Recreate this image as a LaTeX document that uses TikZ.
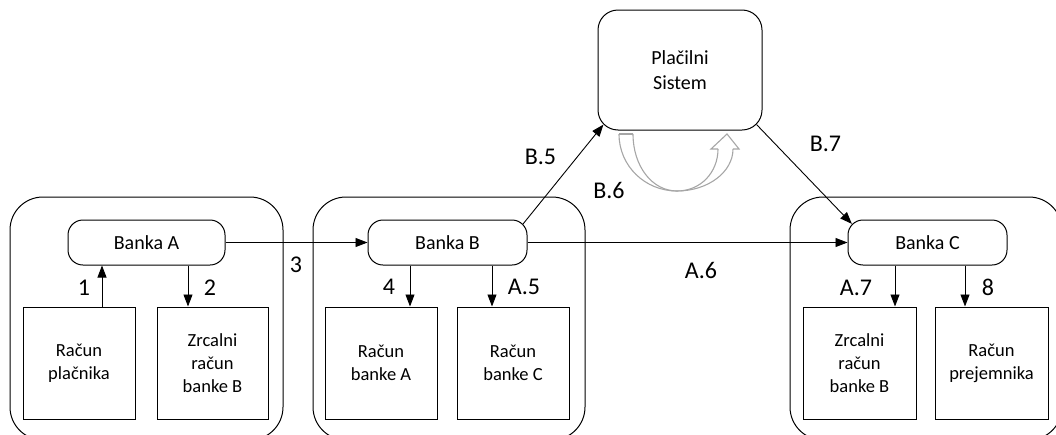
\documentclass[tikz,border=0pt]{standalone}
\usepackage{fontspec}
\setmainfont{Carlito}
\usetikzlibrary{arrows.meta}
\begin{document}
\begin{tikzpicture}[x=1pt,y=-1pt,
  group/.style={draw,line width=1pt,rounded corners=33pt,inner sep=0pt},
  bank/.style={draw,line width=1pt,rounded corners=15pt,inner sep=0pt,
    minimum height=45pt,font=\fontsize{20}{24}\selectfont},
  acct/.style={draw,line width=1pt,inner sep=0pt,minimum width=112pt,
    minimum height=112pt,align=center,font=\fontsize{18.5}{23}\selectfont},
  sysbox/.style={draw,line width=1pt,rounded corners=20pt,inner sep=0pt,
    minimum width=164pt,minimum height=120pt,align=center,
    font=\fontsize{20}{25.5}\selectfont},
  arr/.style={line width=0.9pt,-{Triangle[length=12pt,width=9pt]}},
  lbl/.style={font=\fontsize{24}{27}\selectfont,inner sep=0pt},
  loop/.style={draw=gray!70,line width=1.1pt}]
\useasboundingbox (0,0) rectangle (1056,434);
\clip (0,0) rectangle (1056,434);

% bank groups
\node[group,minimum width=273pt,minimum height=243pt] (g1) at (146.5,318.5) {};
\node[group,minimum width=272pt,minimum height=243pt] (g2) at (449,318.5) {};
\node[group,minimum width=272pt,minimum height=243pt] (g3) at (926,318.5) {};

% banks
\node[bank,minimum width=157pt] (bA) at (146.5,242.5) {Banka A};
\node[bank,minimum width=159pt] (bB) at (447.5,242.5) {Banka B};
\node[bank,minimum width=159pt] (bC) at (927.5,242.5) {Banka C};

% payment system
\node[sysbox] (ps) at (680,70) {Plačilni\\Sistem};

% accounts
\node[acct] (r1) at (79,363) {Račun\\plačnika};
\node[acct,minimum width=111pt] (r2) at (212.5,363) {Zrcalni\\račun\\banke B};
\node[acct] (r3) at (381,363) {Račun\\banke A};
\node[acct] (r4) at (513,363) {Račun\\banke C};
\node[acct,minimum width=113pt] (r5) at (859.5,363) {Zrcalni\\račun\\banke B};
\node[acct,minimum width=113pt] (r6) at (991.5,363) {Račun\\prejemnika};

% flows inside the banks
\draw[arr] ([xshift=23pt]r1.north) -- ([xshift=23pt]r1.north |- bA.south);
\draw[arr] ([xshift=-24.5pt]r2.north |- bA.south) -- ([xshift=-24.5pt]r2.north);
\draw[arr] ([xshift=29pt]r3.north |- bB.south) -- ([xshift=29pt]r3.north);
\draw[arr] ([xshift=-21pt]r4.north |- bB.south) -- ([xshift=-21pt]r4.north);
\draw[arr] ([xshift=35.5pt]r5.north |- bC.south) -- ([xshift=35.5pt]r5.north);
\draw[arr] ([xshift=-26.5pt]r6.north |- bC.south) -- ([xshift=-26.5pt]r6.north);

% flows between banks
\draw[arr] (bA.east) -- (bB.west);
\draw[arr] (bB.east) -- (bC.west);
\draw[arr] ([shift={(-4.4,4.4)}]bB.north east) -- ([shift={(5.9,-5.9)}]ps.south west);
\draw[arr] ([shift={(-5.9,-5.9)}]ps.south east) -- ([shift={(4.4,4.4)}]bC.north west);

% settlement loop under the payment system
\draw[loop] (619,134) -- (633,134);
\draw[loop] (619,134) .. controls (619,166) and (645,191) .. (677,191)
                      .. controls (701,191) and (718,172) .. (718,149);
\draw[loop] (633,134) .. controls (633,166) and (652,191) .. (677,191)
                      .. controls (708,191) and (733,172) .. (733,149);
\draw[loop,line join=miter] (718,149) -- (711,149) -- (727,134) -- (739,149) -- (733,149);

% step labels
\node[lbl] (l1) at (84,288) {1};
\node[lbl] (l2) at (210,288) {2};
\node[lbl] (l3) at (296,265) {3};
\node[lbl] (l4) at (389,287) {4};
\node[lbl] (l5) at (524,287) {A.5};
\node[lbl] (l6) at (701,270) {A.6};
\node[lbl] (l7) at (856,288) {A.7};
\node[lbl] (l8) at (988,287) {8};
\node[lbl] (lb5) at (540.5,157) {B.5};
\node[lbl] (lb6) at (609,190.5) {B.6};
\node[lbl] (lb7) at (825.5,143.5) {B.7};
\end{tikzpicture}
\end{document}
